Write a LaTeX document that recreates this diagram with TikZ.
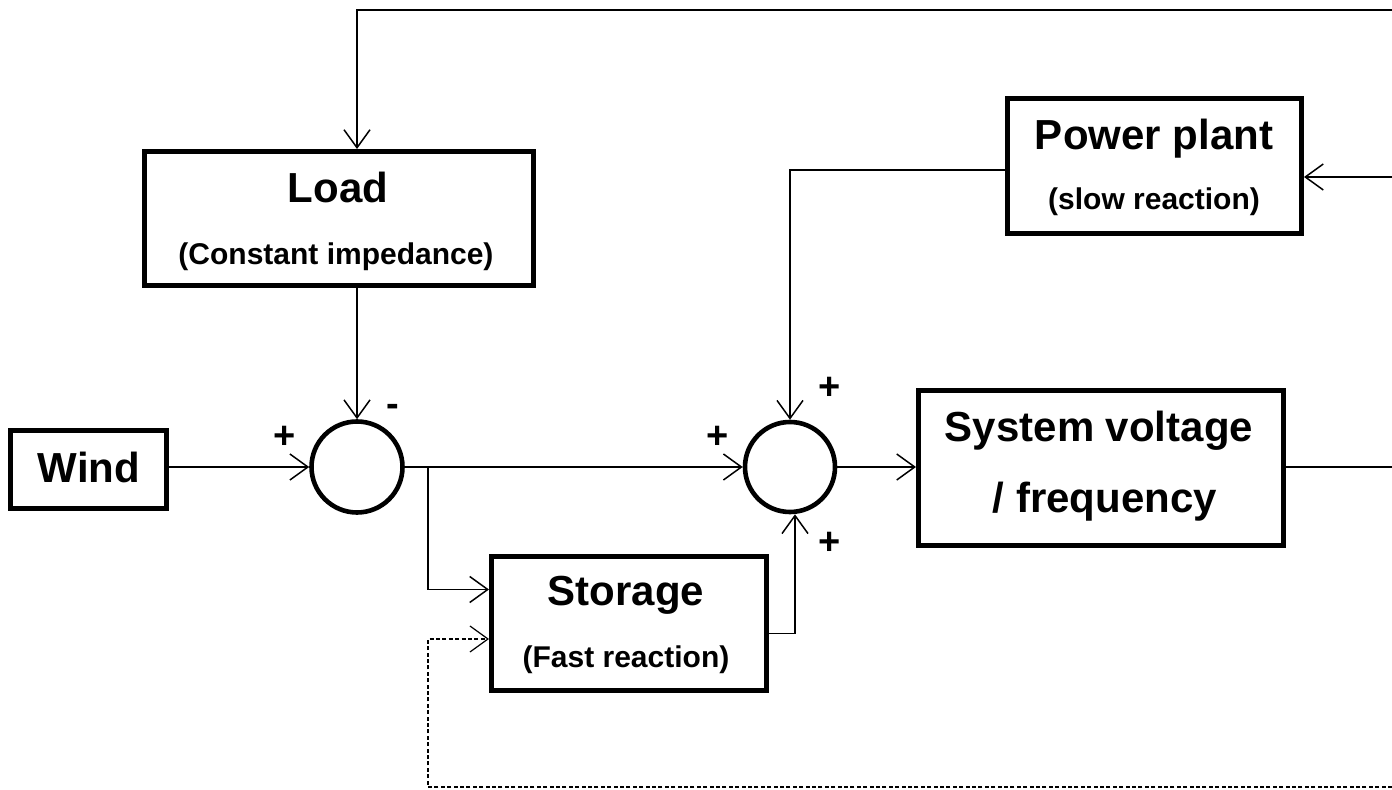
\documentclass[tikz,border=0pt]{standalone}
\usepackage{fontspec}
\setmainfont{Liberation Sans}
\usetikzlibrary{arrows.meta}

\begin{document}
\begin{tikzpicture}[x=.5pt,y=-.5pt,line width=.75pt,
  blk/.style={draw,line width=2.5pt,inner sep=0pt},
  sumpt/.style={draw,circle,line width=2.3pt,inner sep=0pt},
  big/.style={font=\bfseries\fontsize{21}{25}\selectfont,anchor=base},
  small/.style={font=\bfseries\fontsize{15}{18}\selectfont,anchor=base},
  sgn/.style={font=\bfseries\fontsize{19}{22}\selectfont},
  arr/.style={-{Straight Barb[length=9pt,width=13pt]}},
  fb/.style={line width=.6pt,dash pattern=on 2pt off 1.2pt}]
  \useasboundingbox (0,0) rectangle (1392,790);
  % 方框
  \node[blk,minimum width=194.5pt,minimum height=67pt] (load) at (339,218.5) {};
  \node[blk,minimum width=78pt,minimum height=39pt] (wind) at (88.5,469.5) {};
  \node[blk,minimum width=137.5pt,minimum height=67pt] (stor) at (629,623.5) {};
  \node[blk,minimum width=147pt,minimum height=67.5pt] (pp) at (1154.5,166) {};
  \node[blk,minimum width=182.5pt,minimum height=77.5pt] (sys) at (1101,468) {};
  % 求和点
  \node[sumpt,minimum size=45.5pt] (sum1) at (357,467) {};
  \node[sumpt,minimum size=45pt] (sum2) at (790,467) {};
  % 文字
  \node[big] (loadT) at (338,203) {Load};
  \node[small] (loadS) at (336,265) {(Constant impedance)};
  \node[big] (windT) at (89,483) {Wind};
  \node[big] (storT) at (626,605) {Storage};
  \node[small] (storS) at (626,668) {(Fast reaction)};
  \node[big] (ppT) at (1154,150) {Power plant};
  \node[small] (ppS) at (1154,210) {(slow reaction)};
  \node[big] (sysT) at (1099,442) {System voltage};
  \node[big] (sysS) at (1105,513) {/ frequency};
  % 符号
  \node[sgn] (p1) at (285,437) {+};
  \node[sgn] (m1) at (393,410) {-};
  \node[sgn] (p2) at (718,437) {+};
  \node[sgn] (p3) at (830,388) {+};
  \node[sgn] (p4) at (830,543) {+};
  % 连线
  \coordinate (eTop) at (1392,10);
  \coordinate (ePP) at (1392,177);
  \coordinate (eSys) at (1392,467);
  \coordinate (eFb) at (1392,787);
  \coordinate (brk) at (428,467);
  \coordinate (fbc) at (428,639);
  \draw[arr] (eTop) -| (sum1 |- load.north);
  \draw[arr] (sum1 |- load.south) -- (sum1.north);
  \draw[arr] (wind.east |- sum1.west) -- (sum1.west);
  \draw[arr] (sum1.east) -- (sum2.west);
  \draw[arr] (brk) |- ([yshift=17pt]stor.west);
  \draw[arr] ([yshift=-5pt]stor.east) -| ([xshift=2.5pt]sum2.south);
  \draw[arr] ([yshift=-2pt]pp.west) -| (sum2.north);
  \draw[arr] (ePP) -- (ePP -| pp.east);
  \draw[arr] (sum2.east) -- (sum2.east -| sys.west);
  \draw (sys.east |- eSys) -- (eSys);
  \draw[fb,arr] (eFb) -| (fbc) -- (fbc -| stor.west);
\end{tikzpicture}
\end{document}
